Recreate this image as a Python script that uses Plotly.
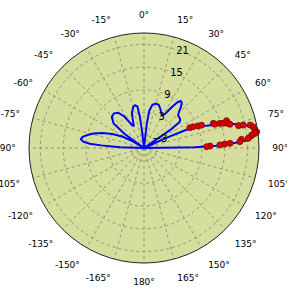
import plotly.graph_objects as go

# blue fitted pattern: angle (deg, clockwise from north) and value
theta_curve = [-90, -88, -86.5, -85.5, -84, -82, -80, -77, -74, -70, -66, -62, -59, -57,
               -54, -51, -46, -41, -36, -32, -28, -25, -22, -19, -15, -12, -9, -7.5, -6.5, -5,
               0, 4.5, 6.5, 8, 11, 15, 19, 23, 27, 30, 32, 34, 36, 38, 40, 42, 44, 46, 48,
               50.5, 52.5, 54, 55.5, 56.5, 60, 64, 65.5, 66.8, 68.5, 70.4, 72, 73.2, 74.5,
               76, 77.5, 78.6, 80, 81.6, 83, 84.4, 85.9, 87, 88.2, 89.2, 90]
r_curve = [-6.3, 0, 5, 8, 9.8, 10.5, 10.2, 9, 7.5, 5.3, 2.8, 0, -3, -6.3,
           0, 4, 5.5, 5.8, 5.2, 3.5, 0.8, 0, 1.5, 3.5, 4.8, 5.2, 4.8, 2, -2, -6.3,
           -6.3, -6.3, 0, 3.5, 5.3, 5.8, 5.7, 4.8, 3.8, 3.6, 4.5, 6.5, 8.5, 9.4, 9.2, 8.2, 7.0, 6.2, 6.0,
           6.0, 5.7, 5.2, 2, -6.3, -6.3, -6.3, 0, 6.9, 9.5, 11.2, 13.5, 15.5, 17.3,
           19.7, 21.2, 22.1, 22.9, 23.2, 23.1, 22.6, 20.8, 17.2, 12.8, 7, -6.3]

# red measured points
theta_data = [66.2, 66.6, 67.9, 68.3, 70.4, 71.5, 72.0, 72.7, 71.7, 73.7, 74.6, 76.7, 77.0,
              77.8, 79.0, 80.8, 81.8, 82.5, 83.1, 84.7, 84.9, 86.2, 86.9, 87.2, 87.7, 88.3, 88.8]
r_data = [6.9, 7.8, 9.1, 10.0, 13.1, 13.4, 14.7, 15.6, 16.6, 16.8, 17.2, 19.3, 20.5,
          22.3, 23.0, 23.3, 23.7, 23.2, 22.3, 21.3, 19.5, 19.0, 16.4, 15.0, 13.7, 11.1, 10.2]

angle_ticks = list(range(0, 360, 15))
angle_labels = [f"{a}°" if a <= 180 else f"{a - 360}°" for a in angle_ticks]
radial_ticks = [-3, 3, 9, 15, 21]
r_range = [-6.3, 24.0]

W, H = 287, 297
fig = go.Figure()
fig.add_trace(go.Scatterpolar(theta=theta_curve, r=r_curve, mode="lines",
                              line=dict(color="#0000ff", width=2), showlegend=False,
                              hoverinfo="skip"))
fig.add_trace(go.Scatterpolar(theta=theta_data, r=r_data, mode="markers",
                              marker=dict(color="#e00000", size=6,
                                          line=dict(color="#800000", width=0.8)),
                              showlegend=False))

fig.update_layout(
    width=W, height=H,
    margin=dict(l=0, r=0, t=0, b=0),
    paper_bgcolor="white",
    font=dict(family="DejaVu Sans", size=9, color="black"),
    polar=dict(
        domain=dict(x=[29 / W, 259 / W], y=[34 / H, 264 / H]),
        bgcolor="#d5de9c",
        angularaxis=dict(rotation=90, direction="clockwise", tickmode="array",
                         tickvals=angle_ticks, ticktext=angle_labels,
                         showline=True, linecolor="#222222", linewidth=1,
                         ticks="outside", ticklen=11, tickcolor="rgba(0,0,0,0)",
                         showgrid=True, gridcolor="#949478", griddash="dot", gridwidth=1,
                         tickfont=dict(size=9)),
        radialaxis=dict(range=r_range, tickmode="array", tickvals=radial_ticks,
                        angle=75, tickangle=75, showline=False, ticks="",
                        showgrid=True, gridcolor="#949478", griddash="dot", gridwidth=1,
                        tickfont=dict(size=10)),
    ),
)

fig.write_html("out.html", config={"displayModeBar": False},
               post_script="document.body.style.margin='0px';document.body.style.overflow='hidden';")
